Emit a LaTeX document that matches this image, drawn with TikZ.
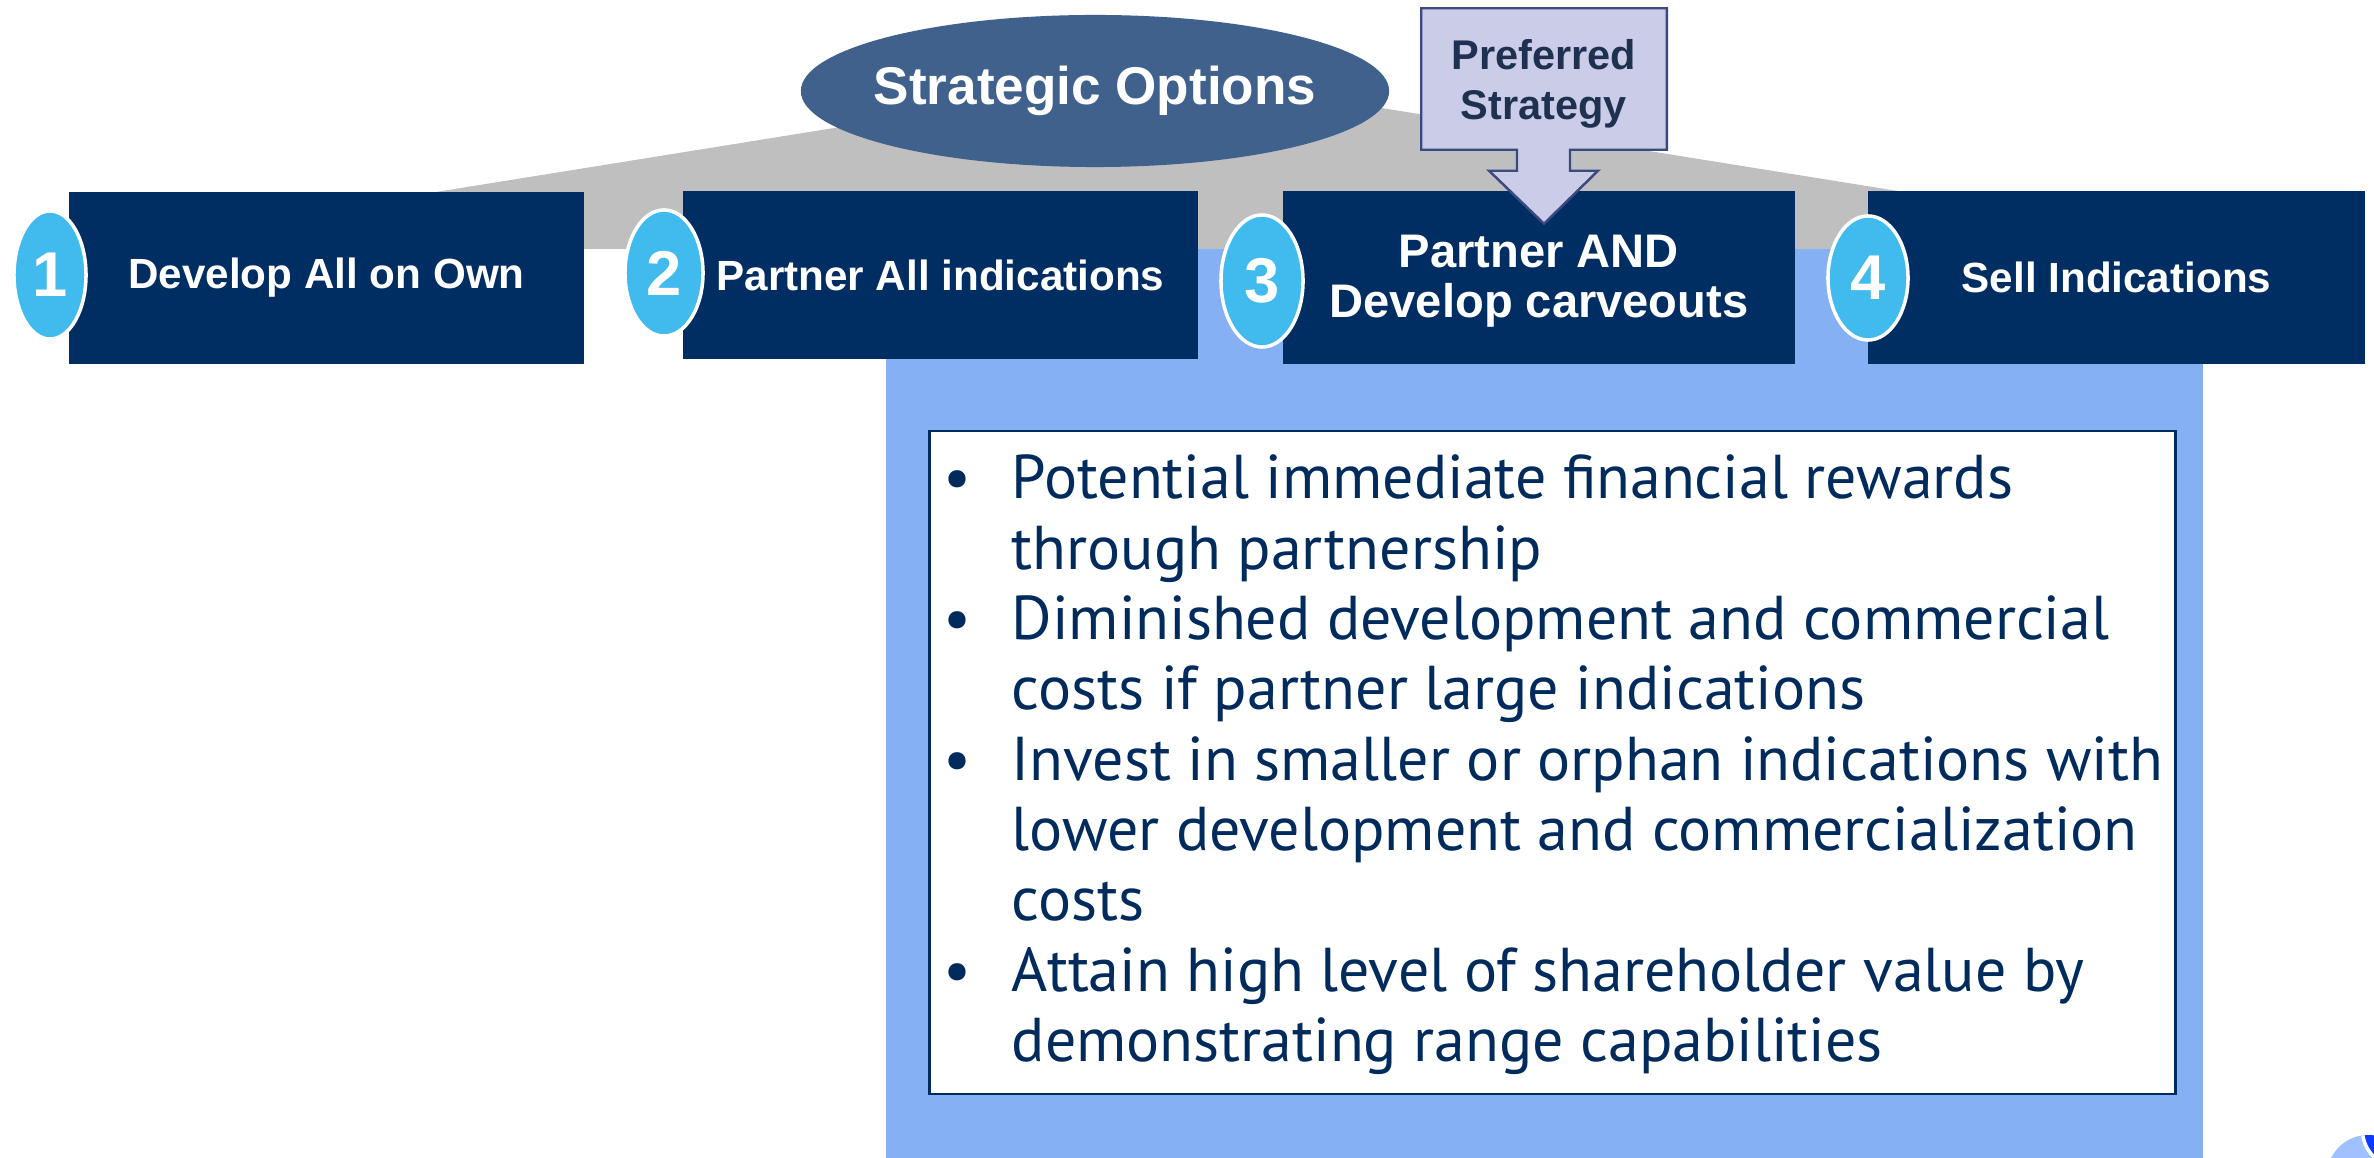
\documentclass[tikz,border=0pt]{standalone}
\usepackage{fontspec}
\setmainfont{Liberation Sans}
\newfontfamily\bulletfont{PT Sans}
\usepackage{tikz}
\usetikzlibrary{shapes.geometric,calc}

\definecolor{navy}{RGB}{0,45,98}
\definecolor{sky}{RGB}{65,187,238}
\definecolor{slate}{RGB}{65,97,141}
\definecolor{panel}{RGB}{133,176,243}
\definecolor{lilac}{RGB}{203,204,232}
\definecolor{lilacedge}{RGB}{58,74,128}
\definecolor{lilacink}{RGB}{31,49,80}
\definecolor{ink}{RGB}{0,43,92}
\definecolor{fangray}{RGB}{191,191,191}
\definecolor{logolight}{RGB}{160,192,255}
\definecolor{logoblue}{RGB}{10,60,255}

\tikzset{
	option/.style={fill=navy, text=white, inner sep=0pt, font=\bfseries\fontsize{12}{14}\selectfont},
	number/.style={ellipse, fill=sky, draw=white, line width=1pt, inner sep=0pt, text=white, font=\bfseries\fontsize{18}{20}\selectfont},
}

\begin{document}
\begin{tikzpicture}[x=0.01cm, y=-0.01cm]
	\useasboundingbox (0,0) rectangle (2374,1158);
	\coordinate (fanleft) at (436,249);
	\coordinate (fanright) at (1904,249);
	\coordinate (apex) at (1170,74);
	\fill[fangray] (fanleft) -- (436,192) -- (apex) -- (1904,192) -- (fanright) -- cycle;
	\fill[panel] (886,249) rectangle (2203,1158);
	\node[ellipse, fill=slate, inner sep=0pt, minimum width=5.88cm, minimum height=1.52cm] (strat) at (1095,91) {};
	\node[text=white, font=\bfseries\fontsize{15.1}{18}\selectfont] (strattext) at (strat.center) {Strategic Options};
	\node[fill=lilac, inner sep=0pt, minimum width=2.44cm, minimum height=1.40cm] (pref) at (1544,79) {};
	\node[align=center, text=lilacink, font=\bfseries\fontsize{11.8}{14.2}\selectfont] (preftext) at ($(pref.center)+(0,5)$) {Preferred\\Strategy};
	\node[option, minimum width=5.15cm, minimum height=1.72cm] (opt1) at (326.5,278) {Develop All on Own};
	\node[option, minimum width=5.15cm, minimum height=1.68cm] (opt2) at (940.5,275) {Partner All indications};
	\node[option, minimum width=5.12cm, minimum height=1.73cm] (opt3) at (1539,277.5) {};
	\node[align=center, text=white, font=\bfseries\fontsize{13.4}{14.2}\selectfont] (opt3text) at ($(opt3.center)+(0,4)$) {Partner AND\\Develop carveouts};
	\node[option, minimum width=4.97cm, minimum height=1.73cm] (opt4) at (2116.5,277.5) {Sell Indications};
	\fill[lilac] ($(pref.south)+(-27,-2)$) -- ($(pref.south)+(26,-2)$) -- ($(pref.south)+(26,21)$) -- ($(pref.south)+(54,21)$) -- ($(pref.south)+(0,74)$) -- ($(pref.south)+(-55,21)$) -- ($(pref.south)+(-27,21)$) -- cycle;
	\draw[lilacedge, line width=0.7pt, line join=miter] (pref.north west) -- (pref.north east) -- (pref.south east) -- ($(pref.south)+(26,0)$) -- ($(pref.south)+(26,21)$) -- ($(pref.south)+(54,21)$) -- ($(pref.south)+(0,74)$) -- ($(pref.south)+(-55,21)$) -- ($(pref.south)+(-27,21)$) -- ($(pref.south)+(-27,0)$) -- (pref.south west) -- cycle;
	\node[number, minimum width=0.72cm, minimum height=1.28cm] (num1) at (50,275) {1};
	\node[number, minimum width=0.78cm, minimum height=1.26cm] (num2) at (664,273) {2};
	\node[number, minimum width=0.82cm, minimum height=1.32cm] (num3) at (1262,281) {3};
	\node[number, minimum width=0.80cm, minimum height=1.24cm] (num4) at (1868,278) {4};
	\node[draw=ink, fill=white, line width=0.7pt, minimum width=12.45cm, minimum height=6.63cm] (pros) at (1552.5,762.5) {};
	\node[anchor=base west, inner sep=0pt, text=ink, font=\bulletfont\fontsize{17.6}{20}\selectfont] (points) at (953,499) {%
		\begin{tabular}[t]{@{}l@{}}
			\makebox[16.5pt][l]{\hspace*{-2.8pt}\textbullet}Potential immediate financial rewards\\
			\hspace*{16.5pt}through partnership\\
			\makebox[16.5pt][l]{\hspace*{-2.8pt}\textbullet}Diminished development and commercial\\
			\hspace*{16.5pt}costs if partner large indications\\
			\makebox[16.5pt][l]{\hspace*{-2.8pt}\textbullet}Invest in smaller or orphan indications with\\
			\hspace*{16.5pt}lower development and commercialization\\
			\hspace*{16.5pt}costs\\
			\makebox[16.5pt][l]{\hspace*{-2.8pt}\textbullet}Attain high level of shareholder value by\\
			\hspace*{16.5pt}demonstrating range capabilities
		\end{tabular}};
	\begin{scope}
		\clip (0,0) rectangle (2374,1158);
		\fill[logolight] (2368,1176) circle[radius=41];
		\begin{scope}
			\clip (2368,1176) circle[radius=41];
			\filldraw[logoblue, draw=white, line width=1pt] (2400,1130) circle[radius=37.5];
		\end{scope}
	\end{scope}
\end{tikzpicture}
\end{document}
